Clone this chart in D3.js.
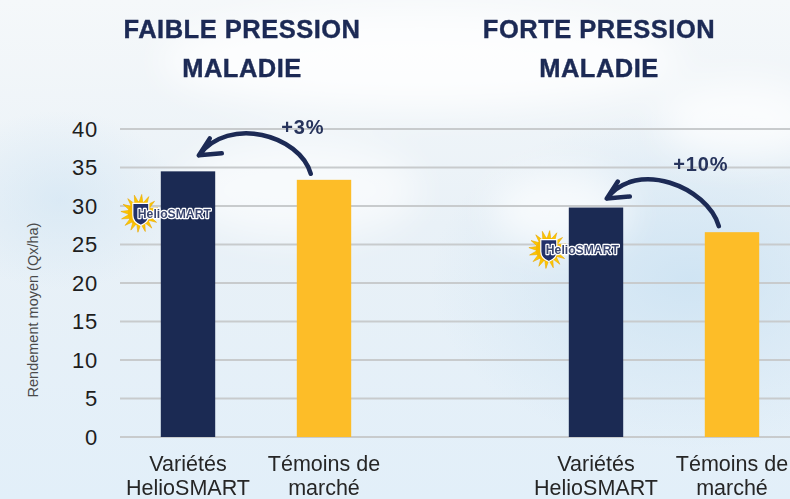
<!DOCTYPE html>
<html>
<head>
<meta charset="utf-8">
<script src="https://cdn.jsdelivr.net/npm/d3@7"></script>
<style>
  html, body { margin: 0; padding: 0; background: #eef4f8; }
  svg { display: block; font-family: "Liberation Sans", Arial, sans-serif; }
</style>
</head>
<body>
<svg id="chart" width="790" height="499"></svg>
<script>
// ---------- data ----------
const groupTitles = [["FAIBLE PRESSION", "MALADIE"], ["FORTE PRESSION", "MALADIE"]];
const categories = ["Variétés HelioSMART", "Témoins de marché"];
const categoryLines = [["Variétés", "HelioSMART"], ["Témoins de", "marché"]];
const helioValues = [34.5, 29.8];
const temoinValues = [33.4, 26.6];
const gainLabels = ["+3%", "+10%"];
const yTicks = [0, 5, 10, 15, 20, 25, 30, 35, 40];
const yLabel = "Rendement moyen (Qx/ha)";
const logoText = "HelioSMART";

// ---------- layout ----------
const W = 790, H = 499;
const navy = "#1b2a53", yellow = "#fdbd28", gridColor = "#c8cbcd";
const titleX = [242, 599];
const gainOffset = [[104, -21], [94, -28]];
const tipLift = [16, 9];

const svg = d3.select("#chart");
const defs = svg.append("defs");

// background sky
const lg = defs.append("linearGradient").attr("id", "sky").attr("x1", 0).attr("y1", 0).attr("x2", 0).attr("y2", 1);
lg.append("stop").attr("offset", "0%").attr("stop-color", "#f5f8fa");
lg.append("stop").attr("offset", "45%").attr("stop-color", "#e9f1f7");
lg.append("stop").attr("offset", "100%").attr("stop-color", "#e2eff9");
const rg = defs.append("radialGradient").attr("id", "blue1").attr("cx", 0.5).attr("cy", 0.5).attr("r", 0.5);
rg.append("stop").attr("offset", "0%").attr("stop-color", "#cde3f3").attr("stop-opacity", 0.9);
rg.append("stop").attr("offset", "100%").attr("stop-color", "#cde3f3").attr("stop-opacity", 0);
const blur = defs.append("filter").attr("id", "blur").attr("x", "-50%").attr("y", "-50%").attr("width", "200%").attr("height", "200%");
blur.append("feGaussianBlur").attr("stdDeviation", 18);

svg.append("rect").attr("width", W).attr("height", H).attr("fill", "url(#sky)");
svg.append("ellipse").attr("cx", 690).attr("cy", 280).attr("rx", 260).attr("ry", 170).attr("fill", "url(#blue1)");
svg.append("ellipse").attr("cx", 60).attr("cy", 200).attr("rx", 120).attr("ry", 90).attr("fill", "url(#blue1)").attr("opacity", 0.6);
const clouds = svg.append("g").attr("filter", "url(#blur)").attr("fill", "#ffffff");
clouds.append("ellipse").attr("cx", 420).attr("cy", 60).attr("rx", 260).attr("ry", 50).attr("opacity", 0.8);
clouds.append("ellipse").attr("cx", 560).attr("cy", 210).attr("rx", 70).attr("ry", 40).attr("opacity", 0.7);
clouds.append("ellipse").attr("cx", 740).attr("cy", 120).attr("rx", 80).attr("ry", 40).attr("opacity", 0.7);
clouds.append("ellipse").attr("cx", 300).attr("cy", 190).attr("rx", 120).attr("ry", 50).attr("opacity", 0.6);

// ---------- scales ----------
const slots = ["0-0", "0-1", "gap", "1-0", "1-1"];
const x = d3.scaleBand().domain(slots).range([120, 800]).paddingInner(0.6).paddingOuter(0.3);
const y = d3.scaleLinear().domain([0, 40]).range([437, 129]);

const bars = [];
helioValues.forEach((v, g) => bars.push({ key: g + "-0", g, c: 0, v }));
temoinValues.forEach((v, g) => bars.push({ key: g + "-1", g, c: 1, v }));

// grid
svg.append("g").selectAll("line").data(yTicks).join("line")
  .attr("x1", 120).attr("x2", W)
  .attr("y1", d => y(d)).attr("y2", d => y(d))
  .attr("stroke", gridColor).attr("stroke-width", 2);

// y axis labels
const yAxis = d3.axisLeft(y).tickValues(yTicks).tickSize(0).tickPadding(0);
const ya = svg.append("g").attr("transform", "translate(98,0)").call(yAxis);
ya.select(".domain").remove();
ya.selectAll("text").attr("font-size", 22).attr("fill", "#1e1e1e")
  .attr("font-family", "'Liberation Sans', Arial, sans-serif").attr("letter-spacing", 0.8);

svg.append("text").attr("transform", "translate(38,310) rotate(-90)")
  .attr("text-anchor", "middle").attr("font-size", 14.5).attr("fill", "#4a4a4a").text(yLabel);

// bars
svg.append("g").selectAll("rect").data(bars).join("rect")
  .attr("x", d => x(d.key)).attr("width", x.bandwidth())
  .attr("y", d => y(d.v)).attr("height", d => y(0) - y(d.v))
  .attr("fill", d => d.c === 0 ? navy : yellow);

// category labels
const catG = svg.append("g");
bars.forEach(d => {
  const t = catG.append("text").attr("text-anchor", "middle")
    .attr("font-size", 21.5).attr("fill", "#262626");
  categoryLines[d.c].forEach((line, i) => {
    t.append("tspan").attr("x", x(d.key) + x.bandwidth() / 2).attr("y", 471 + i * 23.5).text(line);
  });
});

// titles
groupTitles.forEach((lines, g) => {
  const t = svg.append("text").attr("text-anchor", "middle").attr("font-size", 25.5)
    .attr("font-weight", "bold").attr("fill", "#1c2a55").attr("letter-spacing", 0.5)
    .attr("stroke", "#1c2a55").attr("stroke-width", 0.4);
  lines.forEach((line, i) => t.append("tspan").attr("x", titleX[g]).attr("y", 38 + i * 38.5).text(line));
});

// arrows + gains
groupTitles.forEach((_, g) => {
  const xs = x(g + "-1"), xh = x(g + "-0");
  const s = [xs + 14, y(temoinValues[g]) - 6];
  const tip = [xh + 38, y(helioValues[g]) - tipLift[g]];
  const p = d3.path();
  p.moveTo(s[0], s[1]);
  p.bezierCurveTo(s[0] - 11, s[1] - 39, tip[0] + 30, tip[1] - 40, tip[0], tip[1]);
  p.moveTo(tip[0] + 23, tip[1] - 2);
  p.lineTo(tip[0], tip[1]);
  p.lineTo(tip[0] + 11, tip[1] - 17);
  svg.append("path").attr("d", p.toString()).attr("fill", "none").attr("stroke", "#1c2a55")
    .attr("stroke-width", 4.5).attr("stroke-linecap", "round").attr("stroke-linejoin", "round");
  svg.append("text").attr("x", tip[0] + gainOffset[g][0]).attr("y", tip[1] + gainOffset[g][1])
    .attr("text-anchor", "middle").attr("font-size", 20).attr("font-weight", "bold")
    .attr("fill", "#27345c").attr("letter-spacing", 0.8).text(gainLabels[g]);
});

// HelioSMART logos
helioValues.forEach((v, g) => {
  const cx = x(g + "-0") - 21, cy = y(v) + 42;
  const lgp = svg.append("g");
  const n = 16;
  for (let i = 0; i < n; i++) {
    const a = (i / n) * 2 * Math.PI + 0.1, da = Math.PI / n * 1.15;
    const pts = [
      [cx + 10 * Math.cos(a - da), cy + 10 * Math.sin(a - da)],
      [cx + 19 * Math.cos(a), cy + 19 * Math.sin(a)],
      [cx + 10 * Math.cos(a + da), cy + 10 * Math.sin(a + da)]
    ];
    lgp.append("path").attr("d", "M" + pts.map(q => q.join(",")).join("L") + "Z")
      .attr("fill", "#fcc800").attr("stroke", "#e9a600").attr("stroke-width", 0.6);
  }
  lgp.append("circle").attr("cx", cx).attr("cy", cy).attr("r", 12).attr("fill", "#f6b800");
  lgp.append("path")
    .attr("d", `M${cx - 7},${cy - 10} L${cx + 9},${cy - 10} L${cx + 9},${cy + 2} Q${cx + 9},${cy + 9} ${cx + 1},${cy + 12} Q${cx - 7},${cy + 9} ${cx - 7},${cy + 2} Z`)
    .attr("fill", "#22316a").attr("stroke", "#ffffff").attr("stroke-width", 1.2);
  lgp.append("text").attr("x", cx - 2).attr("y", cy + 4.5).attr("font-size", 12.2).attr("font-weight", "bold")
    .attr("fill", "#3a4670").attr("stroke", "#ffffff").attr("stroke-width", 2.4)
    .attr("paint-order", "stroke").attr("stroke-linejoin", "round").text(logoText);
});
</script>
</body>
</html>
